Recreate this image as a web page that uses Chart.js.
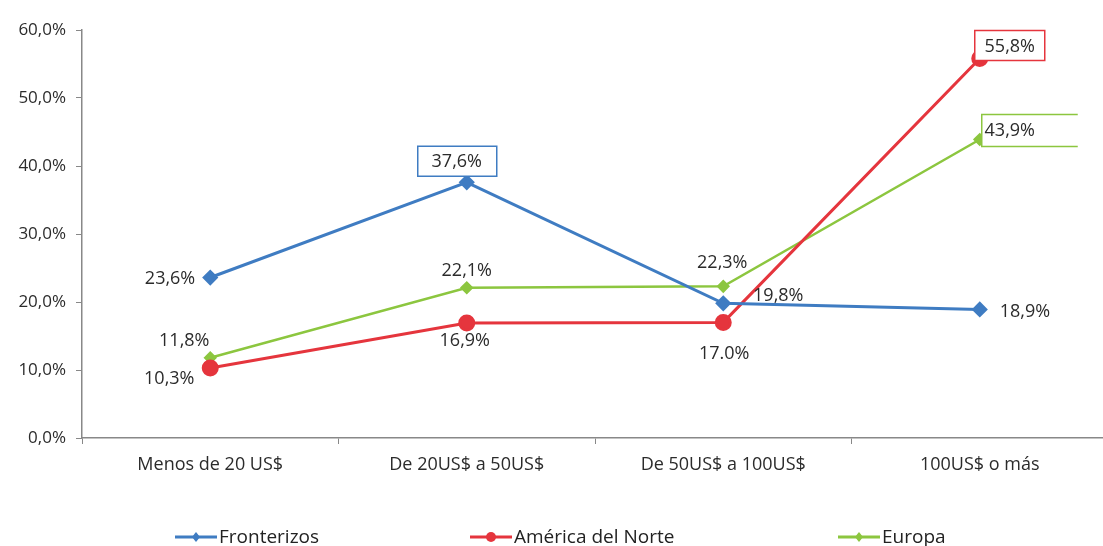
<!DOCTYPE html>
<html>
<head>
<meta charset="utf-8">
<script src="https://cdn.jsdelivr.net/npm/chart.js@4.4.1/dist/chart.umd.min.js"></script>
<style>
html,body{margin:0;padding:0;background:#fff;overflow:hidden;}
#wrap{width:1118px;height:546px;}
</style>
</head>
<body>
<div id="wrap"><canvas id="c" width="1118" height="546"></canvas></div>
<script>
const categories = ['Menos de 20 US$', 'De 20US$ a 50US$', 'De 50US$ a 100US$', '100US$ o más'];
const fronterizos = [23.6, 37.6, 19.8, 18.9];
const americaNorte = [10.3, 16.9, 17.0, 55.8];
const europa = [11.8, 22.1, 22.3, 43.9];
const seriesNames = ['Fronterizos', 'América del Norte', 'Europa'];
const labelTexts = {
  0: ['23,6%', '37,6%', '19,8%', '18,9%'],
  1: ['10,3%', '16,9%', '17.0%', '55,8%'],
  2: ['11,8%', '22,1%', '22,3%', '43,9%']
};

// label placement (style, not data)
const labelPos = {
  0: [{dx:-15,dy:0,align:'right'},{dx:-10,dy:-21,align:'center',box:[-39,40,-15,15]},{dx:55,dy:-8,align:'center'},{dx:20,dy:1,align:'left'}],
  1: [{dx:-41,dy:10,align:'center'},{dx:-2,dy:17,align:'center'},{dx:1,dy:30,align:'center'},{dx:30,dy:-13,align:'center',box:[-35,35,-15,15]}],
  2: [{dx:-26,dy:-18,align:'center'},{dx:0,dy:-18,align:'center'},{dx:-1,dy:-24,align:'center'},{dx:30,dy:-10,align:'center',box:[-28,68,-15,17],open:true}]
};

const colors = ['#3f7cc2', '#e5353d', '#8cc63f'];
const FONT = '"Open Sans", "Noto Sans", sans-serif';

const labelPlugin = {
  id: 'pointLabels',
  afterDatasetsDraw(chart) {
    const ctx = chart.ctx;
    ctx.save();
    ctx.font = '18px ' + FONT;
    ctx.textBaseline = 'middle';
    chart.data.datasets.forEach((ds, di) => {
      const meta = chart.getDatasetMeta(di);
      meta.data.forEach((pt, i) => {
        const p = labelPos[di][i];
        const x = pt.x + p.dx, y = pt.y + p.dy;
        if (p.box) {
          ctx.strokeStyle = colors[di];
          ctx.lineWidth = 1.5;
          const [l, r, t, b] = p.box;
          ctx.fillStyle = '#fff';
          ctx.fillRect(x + l, y + t, r - l, b - t);
          ctx.beginPath();
          if (p.open) {
            ctx.moveTo(x + r, y + t); ctx.lineTo(x + l, y + t);
            ctx.lineTo(x + l, y + b); ctx.lineTo(x + r, y + b);
          } else {
            ctx.rect(x + l, y + t, r - l, b - t);
          }
          ctx.stroke();
        }
        ctx.fillStyle = '#2b2b2b';
        ctx.textAlign = p.align;
        ctx.fillText(labelTexts[di][i], x, y + 1);
      });
    });
    ctx.restore();
  }
};

const legendPlugin = {
  id: 'customLegend',
  afterDraw(chart) {
    const ctx = chart.ctx;
    const items = [{x:175},{x:470},{x:838}];
    const y = 537;
    ctx.save();
    ctx.font = '19px ' + FONT;
    ctx.textBaseline = 'middle';
    ctx.textAlign = 'left';
    chart.data.datasets.forEach((ds, di) => {
      const x0 = items[di].x;
      ctx.strokeStyle = colors[di];
      ctx.lineWidth = 3;
      ctx.beginPath(); ctx.moveTo(x0, y); ctx.lineTo(x0 + 42, y); ctx.stroke();
      ctx.fillStyle = colors[di];
      const cx = x0 + 21;
      ctx.beginPath();
      if (di === 1) { ctx.arc(cx, y, 5, 0, Math.PI * 2); }
      else { ctx.moveTo(cx, y - 5); ctx.lineTo(cx + 4, y); ctx.lineTo(cx, y + 5); ctx.lineTo(cx - 4, y); ctx.closePath(); }
      ctx.fill();
      ctx.fillStyle = '#222';
      ctx.fillText(ds.label, x0 + 44, y + 1);
    });
    ctx.restore();
  }
};

new Chart(document.getElementById('c'), {
  type: 'line',
  data: {
    labels: categories,
    datasets: [
      { label: seriesNames[0], data: fronterizos, borderColor: colors[0], backgroundColor: colors[0], borderWidth: 3, pointStyle: 'rectRot', pointRadius: 6, pointHoverRadius: 6, tension: 0 },
      { label: seriesNames[1], data: americaNorte, borderColor: colors[1], backgroundColor: colors[1], borderWidth: 3, pointStyle: 'circle', pointRadius: 7, pointHoverRadius: 7, tension: 0 },
      { label: seriesNames[2], data: europa, borderColor: colors[2], backgroundColor: colors[2], borderWidth: 2.5, pointStyle: 'rectRot', pointRadius: 5, pointHoverRadius: 5, tension: 0 }
    ]
  },
  options: {
    responsive: false,
    animation: false,
    layout: { padding: { top: 30, right: 2, left: 0, bottom: 0 } },
    plugins: { legend: { display: false }, tooltip: { enabled: false } },
    scales: {
      x: {
        offset: true,
        grid: { display: true, offset: true, drawOnChartArea: false, color: '#888', tickLength: 6, tickColor: '#888' },
        border: { color: '#888', width: 1.5 },
        ticks: { color: '#2b2b2b', font: { size: 18, family: FONT }, padding: 10, maxRotation: 0 },
        afterFit(s) { s.height = 108; }
      },
      y: {
        min: 0, max: 60,
        grid: { display: true, drawOnChartArea: false, color: '#888', tickLength: 6, tickColor: '#888' },
        border: { color: '#888', width: 1.5 },
        ticks: { stepSize: 10, color: '#2b2b2b', font: { size: 17, family: FONT }, padding: 10,
          callback: v => v.toFixed(1).replace('.', ',') + '%' },
        afterFit(s) { s.width = 82; }
      }
    }
  },
  plugins: [labelPlugin, legendPlugin]
});
</script>
</body>
</html>
